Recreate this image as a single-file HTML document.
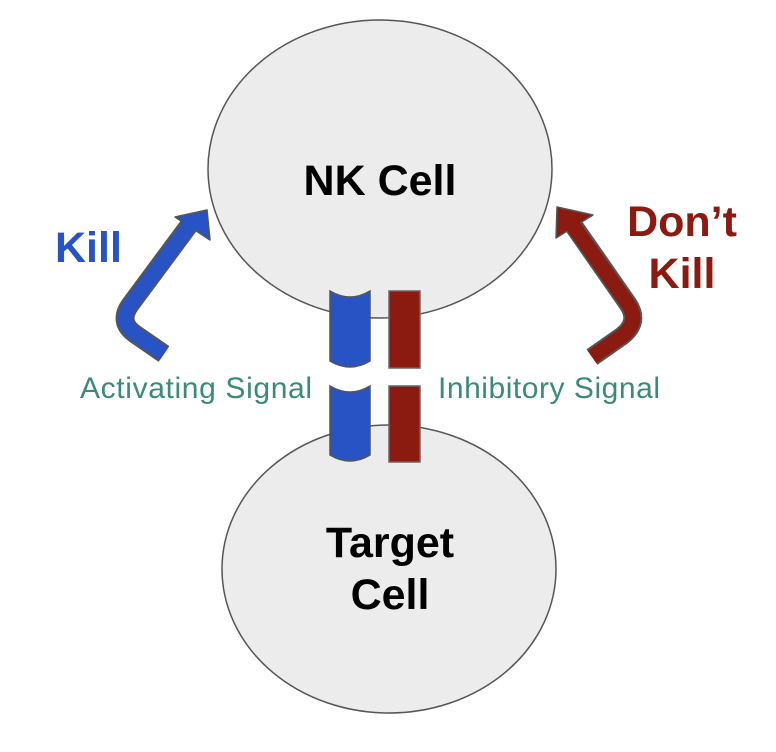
<!DOCTYPE html>
<html><head><style>body{margin:0;background:#fff}svg{display:block}</style></head><body>
<svg width="776" height="752" viewBox="0 0 776 752" xmlns="http://www.w3.org/2000/svg" font-family="Liberation Sans, Arial, sans-serif">
<ellipse cx="380" cy="169" rx="172" ry="149" fill="#ececec" stroke="#555" stroke-width="1.5"/>
<ellipse cx="389" cy="569" rx="167" ry="144" fill="#ececec" stroke="#555" stroke-width="1.5"/>
<text x="380" y="195" text-anchor="middle" font-size="43" font-weight="bold" fill="#000">NK Cell</text>
<text x="390" y="557" text-anchor="middle" font-size="43" font-weight="bold" fill="#000">Target</text>
<text x="390" y="609" text-anchor="middle" font-size="43" font-weight="bold" fill="#000">Cell</text>
<g fill="#2753c4" stroke="#555" stroke-width="1.5">
<path d="M330,291 Q350,303 370,291 L370,361 Q350,373 330,361 Z"/>
<path d="M330,386 Q350,398 370,386 L370,455 Q350,467 330,455 Z"/>
</g>
<g fill="#8b1a10" stroke="#666" stroke-width="1.5">
<rect x="389" y="291" width="31" height="77"/>
<rect x="389" y="386" width="31" height="76"/>
</g>
<path d="M164,354 L135,334 Q118,322 130,305 L190,224" fill="none" stroke="#555" stroke-width="19" stroke-linejoin="round"/>
<polygon points="207,210 175,217 210,240" fill="#2753c4" stroke="#555" stroke-width="1.5" stroke-linejoin="round"/>
<path d="M164,354 L135,334 Q118,322 130,305 L192,222" fill="none" stroke="#2753c4" stroke-width="15" stroke-linejoin="round"/>
<path d="M592,357 L622,336 Q640,322 628,304 L571,222" fill="none" stroke="#555" stroke-width="19" stroke-linejoin="round"/>
<polygon points="557,207 593,215 556,238" fill="#8b1a10" stroke="#555" stroke-width="1.5" stroke-linejoin="round"/>
<path d="M592,357 L622,336 Q640,322 628,304 L569,220" fill="none" stroke="#8b1a10" stroke-width="15" stroke-linejoin="round"/>
<text x="55" y="262" font-size="43" font-weight="bold" fill="#2753c4">Kill</text>
<text x="682" y="236" text-anchor="middle" font-size="43" font-weight="bold" fill="#8b1a10">Don’t</text>
<text x="682" y="288" text-anchor="middle" font-size="43" font-weight="bold" fill="#8b1a10">Kill</text>
<text x="80" y="398" font-size="30" fill="#3a8a7a" textLength="232">Activating Signal</text>
<text x="438" y="398" font-size="30" fill="#3a8a7a" textLength="222">Inhibitory Signal</text>
</svg>
</body></html>
